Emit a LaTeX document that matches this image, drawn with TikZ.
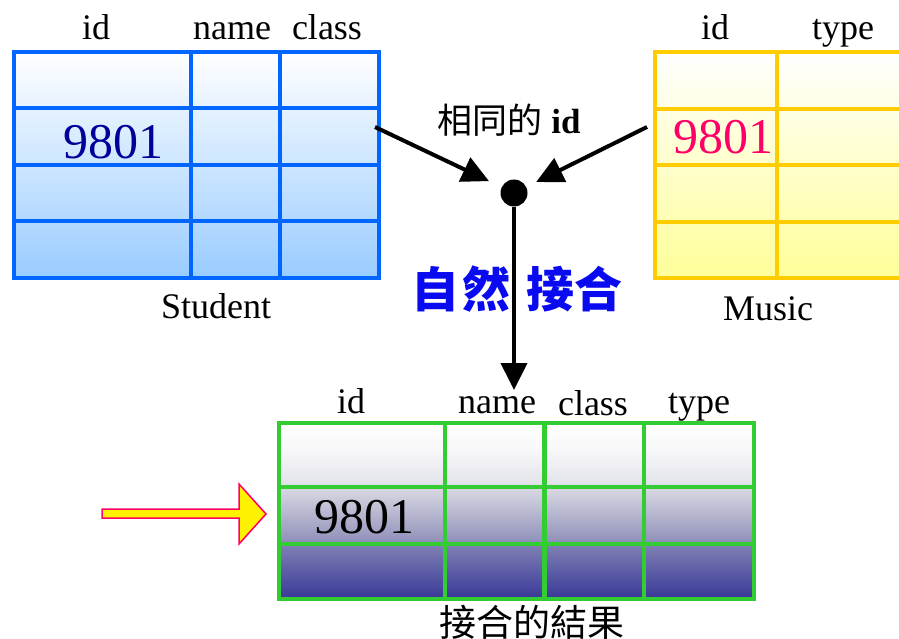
\documentclass[tikz,border=0pt]{standalone}
\usepackage{fontspec}
\setmainfont{Liberation Serif}
\newfontfamily\cjk{Noto Sans CJK TC}
\usetikzlibrary{arrows.meta}
\definecolor{stublue}{HTML}{0066FF}
\definecolor{stufill}{HTML}{99CCFF}
\definecolor{musgold}{HTML}{FFCC00}
\definecolor{musfill}{HTML}{FFFF99}
\definecolor{resgreen}{HTML}{33CC33}
\definecolor{numblue}{HTML}{000099}
\definecolor{numpink}{HTML}{FF0066}
\definecolor{joinblue}{RGB}{10,10,240}
\definecolor{rsA}{HTML}{F8F8FA}
\definecolor{rsB}{HTML}{E4E4EC}
\definecolor{rsC}{HTML}{D6D6E2}
\definecolor{rsD}{HTML}{9494BC}
\definecolor{rsE}{HTML}{7E7EB4}
\definecolor{rsF}{HTML}{383898}
\pgfdeclareverticalshading{resshade}{100bp}{color(0bp)=(rsF); color(25bp)=(rsF); color(40bp)=(rsE); color(42bp)=(rsD); color(56bp)=(rsC); color(58.5bp)=(rsB); color(67.5bp)=(rsA); color(75bp)=(white); color(100bp)=(white)}
\tikzset{
  hdr/.style={font=\fontsize{36}{40}\selectfont, anchor=base, inner sep=0pt},
  num/.style={font=\fontsize{50}{54}\selectfont, anchor=base, inner sep=0pt},
  gridln/.style={line width=4.7pt},
  conn/.style={line width=4pt, -{Triangle[length=27pt,width=26pt]}},
  yarrow/.style={fill=yellow, draw=numpink, line width=1.5pt, line join=miter},
}
\begin{document}
\begin{tikzpicture}[x=1pt,y=-1pt]
\useasboundingbox (0,0) rectangle (899,639);
\clip (0,0) rectangle (899,639);

% ---------- Student table ----------
\shade[top color=white, bottom color=stufill] (14,52) rectangle (379,278);
\draw[gridln, stublue] (14,52) rectangle (379,278);
\draw[gridln, stublue] (191,52) -- (191,278) (280,52) -- (280,278)
  (14,108) -- (379,108) (14,165) -- (379,165) (14,221) -- (379,221);
\node[hdr] (sid) at (96,40) {id};
\node[hdr] (sname) at (232,40) {name};
\node[hdr] (sclass) at (327,40) {class};
\node[hdr] (slabel) at (216,318) {Student};
\node[num, text=numblue] (snum) at (113,159) {9801};

% ---------- Music table ----------
\shade[top color=white, bottom color=musfill] (655,52) rectangle (915,278);
\draw[gridln, musgold] (655,52) rectangle (915,278);
\draw[gridln, musgold] (777,52) -- (777,278)
  (655,109) -- (915,109) (655,165) -- (915,165) (655,222) -- (915,222);
\node[hdr] (mid) at (715,40) {id};
\node[hdr] (mtype) at (843,40) {type};
\node[hdr] (mlabel) at (768,320) {Music};
\node[num, text=numpink] (mnum) at (723,154) {9801};

% ---------- Join ----------
\node[circle, fill=black, minimum size=27pt, inner sep=0pt] (dot) at (514,193) {};
\coordinate (sA) at (375,127);
\coordinate (mA) at (647,127);
\coordinate (jT) at (514,390);
\draw[conn, shorten >=14pt] (sA) -- (dot);
\draw[conn, shorten >=11pt] (mA) -- (dot);
\draw[conn] (dot) -- (jT);
\node[anchor=base, inner sep=0pt, font=\fontsize{35}{38}\selectfont] (same) at (509,134)
  {{\cjk 相同的} \textbf{id}};
\node[anchor=base, inner sep=0pt, text=joinblue, font=\cjk\bfseries\fontsize{48}{50}\selectfont] (nj) at (517,307)
  {自\hspace{4pt}然\hspace{16pt}接合};

% ---------- Result table ----------
\shade[shading=resshade] (279,423) rectangle (754,599);
\draw[gridln, resgreen] (279,423) rectangle (754,599);
\draw[gridln, resgreen] (445,423) -- (445,599) (544.5,423) -- (544.5,599) (644,423) -- (644,599)
  (279,487) -- (754,487) (279,544) -- (754,544);
\node[hdr] (rid) at (351,413) {id};
\node[hdr] (rname) at (497,413) {name};
\node[hdr] (rclass) at (593,415) {class};
\node[hdr] (rtype) at (699,413) {type};
\node[num] (rnum) at (364,533) {9801};
\node[anchor=base, inner sep=0pt, font=\cjk\fontsize{37}{40}\selectfont] (rlabel) at (532,636) {接合的結果};

% ---------- Yellow pointer ----------
\draw[yarrow] (102,509) -- (239,509) -- (239,484) -- (266,514) -- (239,544) -- (239,518) -- (102,518) -- cycle;
\end{tikzpicture}
\end{document}
